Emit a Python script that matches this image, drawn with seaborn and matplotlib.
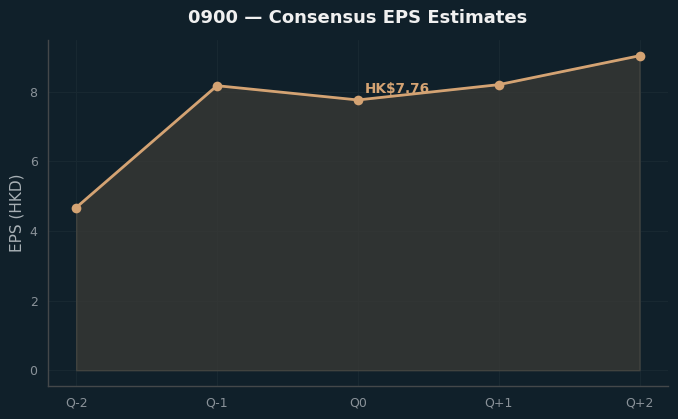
import matplotlib
matplotlib.use("Agg")
import matplotlib.pyplot as plt
import seaborn as sns
import pandas as pd

# quarters and consensus EPS values
quarters = ["Q-2", "Q-1", "Q0", "Q+1", "Q+2"]
eps = [4.67, 8.17, 7.76, 8.20, 9.03]
current_label = "HK$7.76"

bg = "#10202a"
line_col = "#d4a373"

sns.set_style("dark")
plt.rcParams["font.family"] = ["DejaVu Sans"]

df = pd.DataFrame({"quarter": quarters, "eps": eps, "pos": range(len(quarters))})

fig = plt.figure(figsize=(6.78, 4.19), dpi=100, facecolor=bg)
ax = fig.add_axes([0.0708, 0.079, 0.914, 0.8255])
ax.set_facecolor(bg)

ax.fill_between(df["pos"], df["eps"], 0, color="#3a3a36", alpha=0.75, edgecolor="#4a4a44", linewidth=1)
sns.lineplot(data=df, x="pos", y="eps", ax=ax, color=line_col, linewidth=2,
             marker="o", markersize=7, markeredgewidth=0)

ax.annotate(current_label, (2, eps[2]), xytext=(5, 5), textcoords="offset points",
            color=line_col, fontsize=9.8, fontweight="bold")

ax.set_xticks(df["pos"])
ax.set_xticklabels(quarters)
ax.set_xlabel("")
ax.set_ylabel("EPS (HKD)", color="#a8b0b5", fontsize=11)
ax.set_title("0900 — Consensus EPS Estimates", color="#f0f0f0", fontsize=13,
             fontweight="bold", pad=12)

ax.grid(True, color="#182831", linewidth=0.8)
ax.tick_params(colors="#8a9299", labelsize=9, length=4, color="#555")
for s in ["top", "right"]:
    ax.spines[s].set_visible(False)
for s in ["left", "bottom"]:
    ax.spines[s].set_visible(True)
    ax.spines[s].set_color("#44484a")
    ax.spines[s].set_linewidth(1)

fig.savefig("out.png", facecolor=bg)
